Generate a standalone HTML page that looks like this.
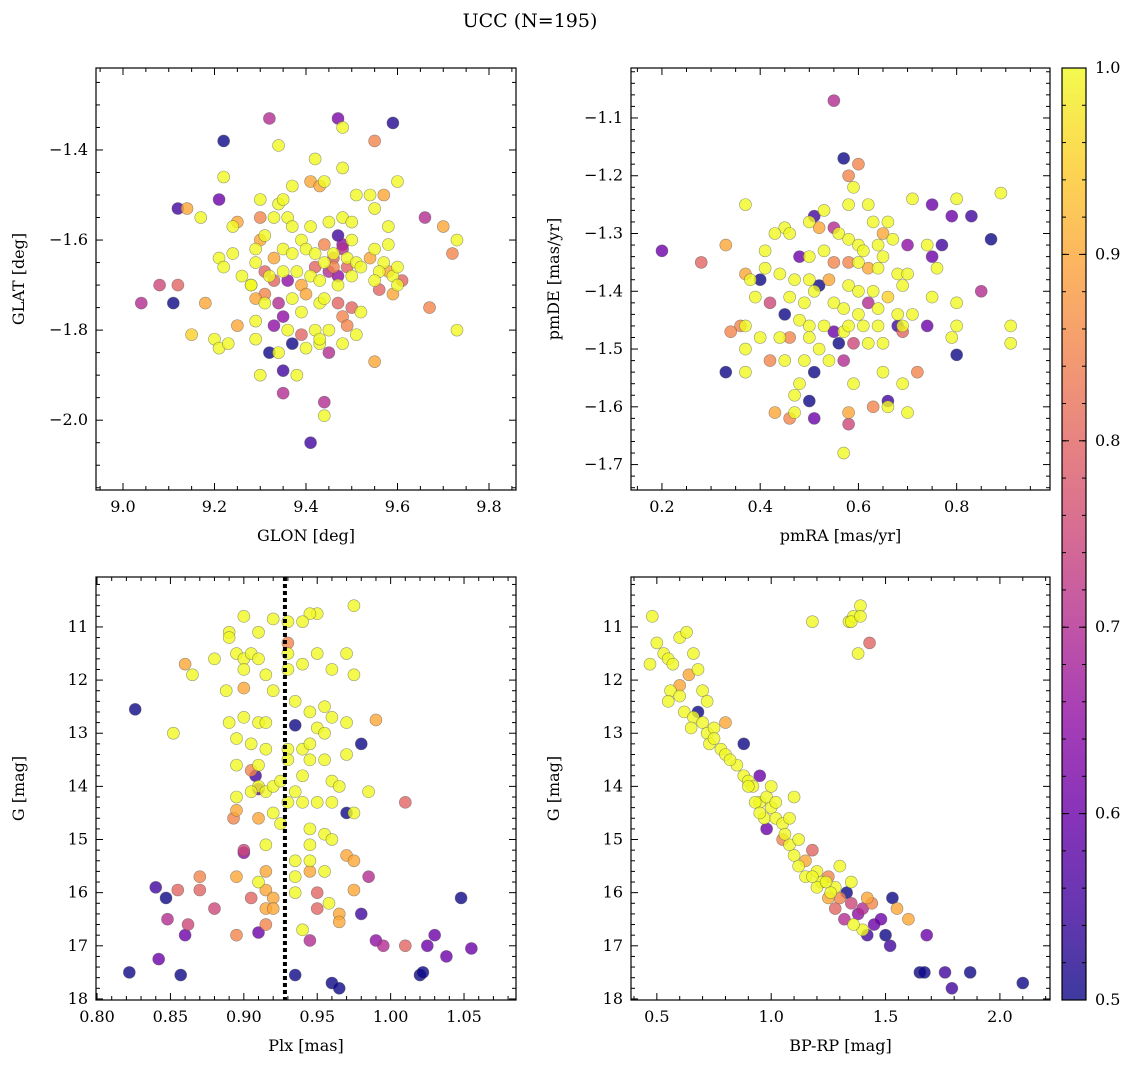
<!DOCTYPE html>
<html><head><meta charset="utf-8"><style>
body{margin:0;background:#fff}
svg text{font-family:"DejaVu Serif","Liberation Serif",serif;fill:#000}
</style></head><body>
<svg id="chart" width="1136" height="1067" xmlns="http://www.w3.org/2000/svg">
<text x="530" y="27" font-size="19" text-anchor="middle">UCC (N=195)</text>
</svg>
<script>
// Panel 1: GLON vs GLAT
const p1 = [[9.22,-1.38,0.5],[9.32,-1.33,0.7],[9.47,-1.33,0.62],[9.59,-1.34,0.52],[9.48,-1.35,1],[9.34,-1.39,1],[9.55,-1.38,0.85],[9.42,-1.42,1],[9.48,-1.44,1],[9.22,-1.46,1],[9.12,-1.53,0.55],[9.14,-1.53,0.9],[9.17,-1.55,1],[9.21,-1.51,0.6],[9.30,-1.51,1],[9.34,-1.52,1],[9.35,-1.51,1],[9.37,-1.48,1],[9.41,-1.47,0.9],[9.43,-1.48,0.9],[9.44,-1.47,1],[9.51,-1.50,1],[9.54,-1.50,1],[9.57,-1.50,0.9],[9.60,-1.47,1],[9.55,-1.53,1],[9.30,-1.55,0.85],[9.36,-1.55,1],[9.33,-1.55,1],[9.25,-1.56,0.9],[9.24,-1.57,1],[9.37,-1.57,1],[9.41,-1.57,1],[9.45,-1.56,1],[9.48,-1.55,1],[9.50,-1.56,1],[9.47,-1.59,0.55],[9.31,-1.59,1],[9.30,-1.60,0.9],[9.29,-1.62,1],[9.39,-1.60,1],[9.44,-1.61,0.85],[9.48,-1.61,0.65],[9.50,-1.60,1],[9.58,-1.57,1],[9.58,-1.61,1],[9.66,-1.55,0.7],[9.70,-1.57,0.9],[9.73,-1.60,1],[9.72,-1.63,0.85],[9.21,-1.64,1],[9.22,-1.66,1],[9.24,-1.63,1],[9.29,-1.65,1],[9.33,-1.64,0.9],[9.35,-1.62,1],[9.37,-1.63,1],[9.40,-1.62,1],[9.42,-1.63,1],[9.44,-1.65,1],[9.46,-1.63,1],[9.46,-1.64,0.8],[9.48,-1.62,0.7],[9.49,-1.64,1],[9.51,-1.65,1],[9.54,-1.64,0.9],[9.55,-1.62,1],[9.57,-1.65,1],[9.56,-1.67,1],[9.58,-1.67,0.9],[9.59,-1.68,1],[9.60,-1.70,1],[9.61,-1.69,0.8],[9.59,-1.72,0.9],[9.60,-1.66,1],[9.26,-1.68,1],[9.28,-1.70,1],[9.31,-1.67,0.8],[9.32,-1.68,1],[9.33,-1.69,0.8],[9.35,-1.67,1],[9.36,-1.69,0.65],[9.38,-1.67,1],[9.39,-1.70,0.9],[9.41,-1.68,1],[9.42,-1.66,0.8],[9.43,-1.69,1],[9.45,-1.67,0.7],[9.46,-1.66,0.85],[9.47,-1.68,0.65],[9.49,-1.66,0.8],[9.50,-1.68,1],[9.52,-1.66,1],[9.55,-1.69,1],[9.56,-1.71,0.8],[9.08,-1.70,0.75],[9.12,-1.70,0.8],[9.04,-1.74,0.7],[9.11,-1.74,0.5],[9.18,-1.74,0.9],[9.15,-1.81,0.95],[9.28,-1.70,1],[9.29,-1.73,0.9],[9.31,-1.74,1],[9.31,-1.72,0.85],[9.34,-1.74,0.7],[9.35,-1.77,0.65],[9.37,-1.73,1],[9.39,-1.76,1],[9.40,-1.72,0.9],[9.43,-1.74,1],[9.44,-1.73,1],[9.47,-1.74,0.8],[9.48,-1.77,0.85],[9.50,-1.75,0.8],[9.52,-1.76,1],[9.47,-1.70,1],[9.25,-1.79,0.9],[9.29,-1.78,1],[9.33,-1.79,0.65],[9.36,-1.80,1],[9.39,-1.81,0.8],[9.42,-1.80,1],[9.43,-1.83,1],[9.45,-1.80,1],[9.49,-1.79,0.85],[9.51,-1.81,1],[9.67,-1.75,0.85],[9.73,-1.80,1],[9.20,-1.82,1],[9.21,-1.84,1],[9.23,-1.83,1],[9.29,-1.82,1],[9.32,-1.85,0.5],[9.34,-1.85,1],[9.37,-1.83,0.5],[9.40,-1.84,1],[9.43,-1.82,1],[9.45,-1.85,0.7],[9.48,-1.83,1],[9.55,-1.87,0.9],[9.30,-1.90,1],[9.35,-1.89,0.55],[9.38,-1.90,1],[9.35,-1.94,0.7],[9.44,-1.96,0.7],[9.44,-1.99,1],[9.41,-2.05,0.55]];
// Panel 2: pmRA vs pmDE
const p2 = [[0.55,-1.07,0.7],[0.57,-1.17,0.5],[0.60,-1.18,0.85],[0.58,-1.20,0.85],[0.59,-1.22,1],[0.89,-1.23,1],[0.80,-1.24,1],[0.71,-1.24,1],[0.75,-1.25,0.6],[0.37,-1.25,1],[0.58,-1.25,1],[0.62,-1.25,1],[0.53,-1.26,1],[0.51,-1.27,0.55],[0.50,-1.28,1],[0.52,-1.29,0.9],[0.55,-1.29,0.7],[0.45,-1.29,1],[0.46,-1.30,1],[0.43,-1.30,1],[0.56,-1.30,1],[0.63,-1.28,1],[0.66,-1.28,1],[0.65,-1.30,0.9],[0.58,-1.31,1],[0.60,-1.32,1],[0.64,-1.32,1],[0.67,-1.31,1],[0.70,-1.32,0.65],[0.77,-1.32,0.55],[0.83,-1.27,0.55],[0.87,-1.31,0.5],[0.79,-1.27,0.6],[0.74,-1.32,1],[0.20,-1.33,0.6],[0.33,-1.32,0.9],[0.28,-1.35,0.8],[0.41,-1.33,1],[0.48,-1.34,0.6],[0.50,-1.34,1],[0.53,-1.33,1],[0.55,-1.35,0.85],[0.58,-1.35,0.85],[0.60,-1.35,1],[0.61,-1.33,1],[0.62,-1.36,0.9],[0.65,-1.34,1],[0.64,-1.36,1],[0.68,-1.37,1],[0.70,-1.37,1],[0.75,-1.34,0.6],[0.76,-1.36,1],[0.41,-1.36,1],[0.38,-1.38,1],[0.37,-1.37,0.9],[0.40,-1.38,0.5],[0.44,-1.37,1],[0.47,-1.38,1],[0.50,-1.38,1],[0.52,-1.39,0.5],[0.54,-1.38,0.9],[0.58,-1.39,1],[0.60,-1.40,1],[0.63,-1.40,1],[0.66,-1.41,0.95],[0.69,-1.39,1],[0.75,-1.41,1],[0.80,-1.42,1],[0.85,-1.40,0.7],[0.39,-1.41,1],[0.42,-1.42,0.75],[0.46,-1.41,1],[0.49,-1.42,1],[0.51,-1.40,1],[0.55,-1.42,1],[0.57,-1.43,1],[0.60,-1.44,1],[0.62,-1.42,0.7],[0.64,-1.43,1],[0.68,-1.44,1],[0.71,-1.44,1],[0.36,-1.46,0.85],[0.37,-1.46,1],[0.34,-1.47,0.85],[0.45,-1.44,0.5],[0.48,-1.45,1],[0.50,-1.46,1],[0.53,-1.46,1],[0.55,-1.47,0.6],[0.57,-1.47,1],[0.58,-1.46,1],[0.61,-1.46,1],[0.64,-1.46,1],[0.68,-1.46,0.55],[0.69,-1.46,1],[0.74,-1.46,0.6],[0.80,-1.46,1],[0.91,-1.46,1],[0.37,-1.50,1],[0.40,-1.48,1],[0.44,-1.48,1],[0.46,-1.48,0.85],[0.50,-1.48,1],[0.52,-1.50,1],[0.56,-1.49,0.5],[0.59,-1.49,0.75],[0.62,-1.49,1],[0.65,-1.49,1],[0.69,-1.47,0.8],[0.79,-1.48,1],[0.80,-1.51,0.5],[0.91,-1.49,1],[0.33,-1.54,0.5],[0.37,-1.54,1],[0.42,-1.52,0.85],[0.45,-1.52,1],[0.49,-1.52,1],[0.51,-1.54,0.5],[0.54,-1.52,1],[0.57,-1.52,0.7],[0.59,-1.56,1],[0.65,-1.54,1],[0.72,-1.54,0.85],[0.69,-1.56,1],[0.48,-1.56,1],[0.47,-1.58,1],[0.50,-1.59,0.5],[0.47,-1.61,1],[0.43,-1.61,0.9],[0.46,-1.62,0.85],[0.51,-1.62,0.6],[0.58,-1.61,0.9],[0.58,-1.63,0.75],[0.63,-1.60,0.85],[0.66,-1.59,0.55],[0.66,-1.60,1],[0.70,-1.61,1],[0.57,-1.68,1]];
// Panel 3: Plx vs G
const p3 = [[0.975,10.6,1],[0.95,10.75,1],[0.945,10.75,1],[0.90,10.8,1],[0.92,10.85,1],[0.93,10.9,1],[0.94,10.9,1],[0.89,11.1,1],[0.89,11.2,1],[0.91,11.1,1],[0.93,11.3,0.85],[0.97,11.5,1],[0.95,11.5,1],[0.93,11.5,1],[0.86,11.7,0.9],[0.865,11.9,1],[0.88,11.6,1],[0.895,11.5,1],[0.90,11.6,1],[0.90,11.8,1],[0.905,11.5,1],[0.91,11.6,1],[0.915,11.9,1],[0.93,11.8,1],[0.94,11.7,1],[0.96,11.8,1],[0.975,11.9,1],[0.888,12.2,1],[0.90,12.15,0.9],[0.92,12.2,1],[0.935,12.4,1],[0.945,12.6,1],[0.955,12.5,1],[0.826,12.55,0.5],[0.90,12.7,1],[0.89,12.8,1],[0.91,12.8,1],[0.915,12.8,1],[0.935,12.85,0.5],[0.95,12.9,1],[0.96,12.7,1],[0.97,12.8,1],[0.99,12.75,0.9],[0.852,13.0,1],[0.895,13.1,1],[0.905,13.2,1],[0.915,13.3,1],[0.93,13.3,1],[0.94,13.3,1],[0.945,13.2,1],[0.955,13.0,1],[0.97,13.4,1],[0.98,13.2,0.5],[0.895,13.6,1],[0.905,13.7,0.85],[0.91,13.6,1],[0.93,13.5,1],[0.94,13.8,1],[0.945,13.5,1],[0.955,13.5,1],[0.908,13.8,0.55],[0.91,14.0,1],[0.915,14.1,1],[0.92,14.0,1],[0.925,13.9,1],[0.935,14.1,1],[0.96,13.9,1],[0.965,14.0,1],[0.895,14.2,1],[0.905,14.1,1],[0.91,14.05,0.6],[0.93,14.3,1],[0.94,14.3,1],[0.95,14.3,1],[0.96,14.3,1],[0.97,14.5,0.5],[0.975,14.5,1],[0.985,14.1,1],[1.01,14.3,0.8],[0.895,14.45,0.9],[0.893,14.6,0.85],[0.91,14.6,0.9],[0.92,14.5,1],[0.925,14.7,1],[0.945,14.8,1],[0.955,14.9,1],[0.96,15.0,1],[0.945,15.1,1],[0.90,15.2,0.75],[0.90,15.25,0.65],[0.915,15.1,1],[0.935,15.4,1],[0.945,15.4,1],[0.97,15.3,0.9],[0.975,15.4,0.9],[0.87,15.7,0.85],[0.895,15.7,0.9],[0.91,15.8,1],[0.915,15.6,0.9],[0.935,15.7,1],[0.945,15.6,0.9],[0.955,15.6,1],[0.84,15.9,0.55],[0.855,15.95,0.8],[0.87,15.95,0.8],[0.915,15.95,0.9],[0.92,16.1,0.9],[0.935,16.0,1],[0.95,16.0,0.8],[0.958,16.2,1],[0.975,15.95,0.9],[0.985,15.7,0.7],[0.847,16.1,0.5],[0.88,16.3,0.75],[0.905,16.1,0.8],[0.915,16.3,0.9],[0.92,16.3,0.9],[0.95,16.3,0.8],[0.965,16.4,0.9],[0.98,16.4,0.55],[0.848,16.5,0.7],[0.862,16.6,0.75],[0.86,16.8,0.6],[0.895,16.8,0.85],[0.91,16.75,0.6],[0.915,16.6,0.85],[0.94,16.7,1],[0.945,16.9,0.7],[0.965,16.55,0.9],[0.99,16.9,0.65],[0.995,17.0,0.7],[1.01,17.0,0.8],[1.025,17.0,0.6],[1.03,16.8,0.6],[1.038,17.2,0.6],[1.055,17.05,0.6],[1.048,16.1,0.5],[0.822,17.5,0.5],[0.842,17.25,0.6],[0.857,17.55,0.5],[0.935,17.55,0.5],[0.96,17.7,0.5],[0.965,17.8,0.5],[1.02,17.55,0.5],[1.022,17.5,0.5]];
const plxLine = [0.928];
// Panel 4: BP-RP vs G
const p4 = [[0.48,10.8,1],[0.5,11.3,1],[0.47,11.7,1],[0.53,11.5,1],[0.55,11.6,1],[0.57,11.7,1],[0.6,11.2,1],[0.63,11.1,1],[0.66,11.5,1],[0.64,11.9,0.9],[0.68,11.8,1],[0.7,12.2,1],[0.56,12.2,1],[0.55,12.4,1],[0.6,12.3,1],[0.62,12.6,1],[0.66,12.7,1],[0.68,12.6,0.5],[0.72,12.4,1],[0.7,12.8,1],[0.65,12.9,1],[0.72,13.0,1],[0.75,12.9,1],[0.8,12.8,0.9],[0.73,13.2,1],[0.78,13.3,1],[0.8,13.4,1],[0.88,13.2,0.5],[0.85,13.6,1],[0.88,13.8,1],[0.9,13.9,1],[0.92,14.0,1],[0.95,13.8,0.6],[0.95,14.3,1],[0.98,14.2,1],[1.0,14.4,1],[0.97,14.6,1],[1.02,14.6,1],[0.98,14.8,0.6],[1.05,14.7,1],[1.08,14.6,1],[1.1,14.2,1],[1.05,15.0,0.85],[1.08,15.1,1],[1.1,15.3,1],[1.12,15.5,1],[1.15,15.4,0.9],[1.18,15.2,0.8],[1.2,15.6,1],[1.22,15.8,1],[1.25,15.7,0.85],[1.28,15.9,1],[1.3,16.1,0.85],[1.33,16.0,0.5],[1.35,16.2,0.75],[1.3,15.5,1],[1.35,15.8,1],[1.38,16.4,0.65],[1.4,16.3,0.7],[1.42,16.1,0.9],[1.45,16.6,0.6],[1.4,16.7,1],[1.42,16.8,0.55],[1.48,16.5,0.6],[1.5,16.8,0.5],[1.52,17.0,0.55],[1.53,16.1,0.5],[1.55,16.3,0.9],[1.6,16.5,0.9],[1.65,17.5,0.5],[1.67,17.5,0.5],[1.68,16.8,0.6],[1.76,17.5,0.55],[1.79,17.8,0.55],[1.87,17.5,0.5],[2.1,17.7,0.5],[1.2,15.9,1],[1.25,16.1,0.9],[1.28,16.3,0.8],[1.32,16.5,0.7],[1.36,16.6,1],[1.44,16.2,0.85],[1.18,10.9,1],[1.34,10.9,1],[1.36,10.8,1],[1.35,10.9,1],[1.39,10.6,1],[1.39,10.8,1],[1.43,11.3,0.8],[1.38,11.5,1],[1.0,14.0,1],[1.02,14.3,1],[0.9,14.0,1],[0.93,14.3,1],[0.95,14.5,1],[1.06,14.9,1],[1.12,15.0,1],[1.15,15.7,1],[1.18,15.7,1],[1.24,15.8,1],[1.26,16.0,1],[0.6,12.1,0.9],[0.75,13.1,1],[0.82,13.5,1]];
const cbTicks = [0.5,0.6,0.7,0.8,0.9,1.0];

const NS="http://www.w3.org/2000/svg";
const svg=document.getElementById('chart');
function mk(tag,attrs,parent){const e=document.createElementNS(NS,tag);for(const k in attrs)e.setAttribute(k,attrs[k]);(parent||svg).appendChild(e);return e;}
const stops=[[0,'#0d0887'],[0.1,'#41049d'],[0.2,'#6a00a8'],[0.3,'#8f0da4'],[0.4,'#b12a90'],[0.5,'#cc4778'],[0.6,'#e16462'],[0.7,'#f2844b'],[0.8,'#fca636'],[0.9,'#fcce25'],[1,'#f0f921']];
function hx(c){return [1,3,5].map(i=>parseInt(c.substr(i,2),16));}
function plasma(t){t=Math.max(0,Math.min(1,t));for(let i=1;i<stops.length;i++){if(t<=stops[i][0]){const a=stops[i-1],b=stops[i];const f=(t-a[0])/(b[0]-a[0]);const ca=hx(a[1]),cb=hx(b[1]);return 'rgb('+ca.map((v,j)=>Math.round(v+(cb[j]-v)*f)).join(',')+')';}}return stops[stops.length-1][1];}
function fmt(v,d){const s=v.toFixed(d);return v<0?'\u2212'+s.slice(1):s;}

function panel(o){
  const g=mk('g',{});
  
  
  const X=v=>o.x0+(v-o.xmin)/(o.xmax-o.xmin)*(o.x1-o.x0);
  const Y=o.inv?(v=>o.y0+(v-o.ymin)/(o.ymax-o.ymin)*(o.y1-o.y0)):(v=>o.y1-(v-o.ymin)/(o.ymax-o.ymin)*(o.y1-o.y0));
  const frame=mk('rect',{x:o.x0,y:o.y0,width:o.x1-o.x0,height:o.y1-o.y0,fill:'none',stroke:'#000','stroke-width':1.2},g);
  
  
  const eps=1e-9;
  for(let v=Math.ceil(o.xmin/o.xminor-eps)*o.xminor;v<=o.xmax+eps;v+=o.xminor){
    const px=X(v);const major=Math.abs(v/o.xstep-Math.round(v/o.xstep))<1e-6;const L=major?7:4;
    mk('line',{x1:px,x2:px,y1:o.y1,y2:o.y1-L,stroke:'#000','stroke-width':1},g);
    mk('line',{x1:px,x2:px,y1:o.y0,y2:o.y0+L,stroke:'#000','stroke-width':1},g);
    if(major){const t=mk('text',{x:px,y:o.y1+22,'font-size':16,'text-anchor':'middle'},g);t.textContent=fmt(v,o.xd);
      
      }
  }
  for(let v=Math.ceil(o.ymin/o.yminor-eps)*o.yminor;v<=o.ymax+eps;v+=o.yminor){
    const py=Y(v);const major=Math.abs(v/o.ystep-Math.round(v/o.ystep))<1e-6;const L=major?7:4;
    mk('line',{x1:o.x0,x2:o.x0+L,y1:py,y2:py,stroke:'#000','stroke-width':1},g);
    mk('line',{x1:o.x1,x2:o.x1-L,y1:py,y2:py,stroke:'#000','stroke-width':1},g);
    if(major){const t=mk('text',{x:o.x0-8,y:py+5,'font-size':16,'text-anchor':'end'},g);t.textContent=fmt(v,o.yd);
      
      }
  }
  const xl=mk('text',{x:(o.x0+o.x1)/2,y:o.y1+51,'font-size':16,'text-anchor':'middle'},g);xl.textContent=o.xlabel;
  
  
  const yl=mk('text',{x:0,y:0,'font-size':16,'text-anchor':'middle',transform:`translate(${o.x0-72},${(o.y0+o.y1)/2}) rotate(-90)`},g);yl.textContent=o.ylabel;
  
  
  const clip=mk('clipPath',{id:'c'+o.name},g);
  mk('rect',{x:o.x0,y:o.y0,width:o.x1-o.x0,height:o.y1-o.y0},clip);
  const pts=mk('g',{'clip-path':`url(#c${o.name})`},g);
  const sorted=o.data.slice().sort((a,b)=>a[2]-b[2]);
  sorted.forEach(d=>{
    const c=mk('circle',{cx:X(d[0]),cy:Y(d[1]),r:6,fill:plasma((d[2]-0.5)/0.5),'fill-opacity':0.8,stroke:'#555','stroke-opacity':0.6,'stroke-width':0.6},pts);
    
    
  });
  if(o.vline){o.vline.forEach(v=>{const l=mk('line',{x1:X(v),x2:X(v),y1:o.y0,y2:o.y1,stroke:'#000','stroke-width':4,'stroke-dasharray':'4 3'},g);
    
    });}
}
panel({name:'glon-glat-panel',data:p1,x0:96,x1:516,y0:68,y1:490,xmin:8.941,xmax:9.859,ymin:-2.155,ymax:-1.218,xstep:0.2,xminor:0.05,ystep:0.2,yminor:0.05,xd:1,yd:1,xlabel:'GLON [deg]',ylabel:'GLAT [deg]'});
panel({name:'pm-panel',data:p2,x0:631,x1:1050,y0:68,y1:490,xmin:0.137,xmax:0.99,ymin:-1.744,ymax:-1.0135,xstep:0.2,xminor:0.05,ystep:0.1,yminor:0.02,xd:1,yd:1,xlabel:'pmRA [mas/yr]',ylabel:'pmDE [mas/yr]'});
panel({name:'plx-g-panel',data:p3,vline:plxLine,x0:96,x1:516,y0:577,y1:1000,xmin:0.7993,xmax:1.0854,ymin:10.06,ymax:18.02,inv:true,xstep:0.05,xminor:0.01,ystep:1,yminor:0.2,xd:2,yd:0,xlabel:'Plx [mas]',ylabel:'G [mag]'});
panel({name:'cmd-panel',data:p4,x0:631,x1:1050,y0:577,y1:1000,xmin:0.387,xmax:2.219,ymin:10.06,ymax:18.02,inv:true,xstep:0.5,xminor:0.1,ystep:1,yminor:0.2,xd:1,yd:0,xlabel:'BP-RP [mag]',ylabel:'G [mag]'});

const cb=mk('g',{});


const lg=mk('linearGradient',{id:'cbg',x1:0,y1:1,x2:0,y2:0},cb);
stops.forEach(s=>mk('stop',{offset:s[0],'stop-color':s[1]},lg));
const cy0=68,cy1=1000,cx0=1062,cx1=1086;
mk('rect',{x:cx0,y:cy0,width:cx1-cx0,height:cy1-cy0,fill:'url(#cbg)','fill-opacity':0.8},cb);
mk('rect',{x:cx0,y:cy0,width:cx1-cx0,height:cy1-cy0,fill:'none',stroke:'#000','stroke-width':1.2},cb);
const CY=v=>cy1-(v-0.5)/0.5*(cy1-cy0);
for(let v=0.5;v<=1.0001;v+=0.02){const py=CY(v);mk('line',{x1:cx1,x2:cx1-4,y1:py,y2:py,stroke:'#000'},cb);mk('line',{x1:cx0,x2:cx0+4,y1:py,y2:py,stroke:'#000'},cb);}
cbTicks.forEach(v=>{const py=CY(v);mk('line',{x1:cx1,x2:cx1-7,y1:py,y2:py,stroke:'#000'},cb);mk('line',{x1:cx0,x2:cx0+7,y1:py,y2:py,stroke:'#000'},cb);
  const t=mk('text',{x:cx1+9,y:py+5,'font-size':16},cb);t.textContent=v.toFixed(1);
  
  });
</script>
</body></html>
